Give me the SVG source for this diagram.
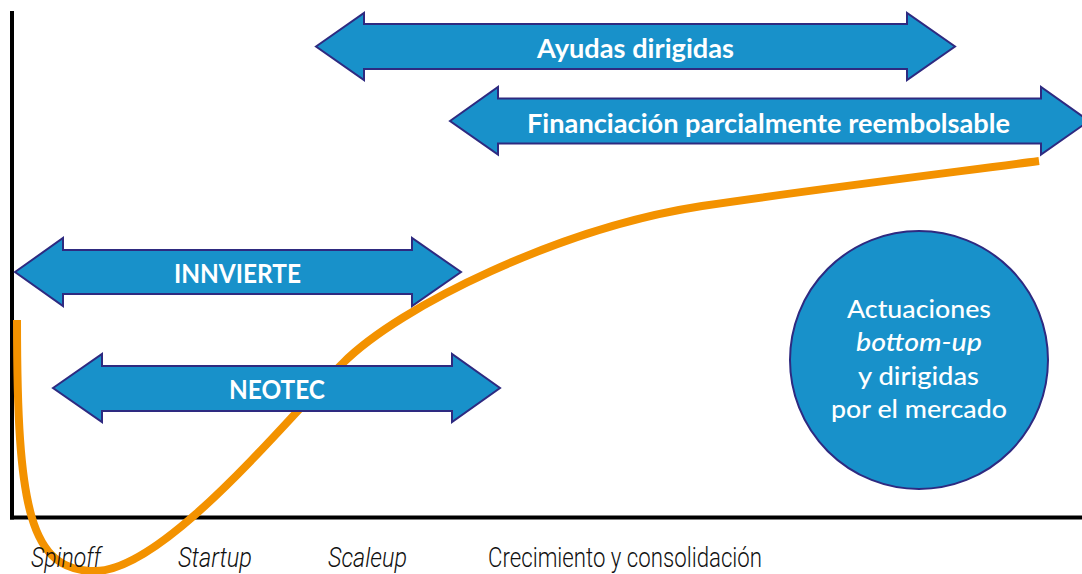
<svg xmlns="http://www.w3.org/2000/svg" width="1082" height="574" viewBox="0 0 1082 574">
  <style>
    .arrow { fill: #1891CA; stroke: #2E2A80; stroke-width: 2; stroke-linejoin: miter; }
    .alabel { font-family: Lato, "Open Sans", sans-serif; font-weight: 700; font-size: 27px; fill: #FFFFFF; text-anchor: middle; }
    .clabel { font-family: Lato, "Open Sans", sans-serif; font-weight: 500; font-size: 25px; fill: #FFFFFF; text-anchor: middle; }
    .stage { font-family: Roboto, "Liberation Sans", sans-serif; font-weight: 300; font-size: 28px; fill: #111111; }
    .axis { stroke: #000000; stroke-width: 4; fill: none; }
    .curve { stroke: #F39200; stroke-width: 8; fill: none; stroke-linecap: butt; }
  </style>
  <rect width="1082" height="574" fill="#FFFFFF"/>

  <g id="axes">
    <line class="axis" x1="12" y1="11" x2="12" y2="519.5"/>
    <line class="axis" x1="10" y1="517.5" x2="1082" y2="517.5"/>
  </g>

  <g id="connectors">
    <path class="curve" d="M17,320 C17,510 30,571 95,571 C165,571 290,415 343,363 C400,306 560,228 702,206 C810,190 940,174 1039,161"/>
  </g>

  <g id="node-ayudas">
    <polygon class="arrow" points="316,46.5 364,13 364,24 907,24 907,13 955,46.5 907,80 907,69 364,69 364,80"/>
    <text class="alabel" x="635.5" y="58" textLength="197" lengthAdjust="spacingAndGlyphs">Ayudas dirigidas</text>
  </g>

  <g id="node-financiacion">
    <polygon class="arrow" points="450,121 498,87 498,98.5 1041,98.5 1041,87 1089,121 1041,154.5 1041,143.5 498,143.5 498,154.5"/>
    <text class="alabel" x="768.5" y="133" textLength="483" lengthAdjust="spacingAndGlyphs">Financiación parcialmente reembolsable</text>
  </g>

  <g id="node-innvierte">
    <polygon class="arrow" points="15,272 63,238 63,250 412,250 412,238 461,272 412,306 412,294 63,294 63,306"/>
    <text class="alabel" x="237.5" y="283" textLength="127" lengthAdjust="spacingAndGlyphs">INNVIERTE</text>
  </g>

  <g id="node-neotec">
    <polygon class="arrow" points="53,388 102,354 102,366 452,366 452,354 500,388 452,422 452,411 102,411 102,422"/>
    <text class="alabel" x="277" y="399" textLength="96" lengthAdjust="spacingAndGlyphs">NEOTEC</text>
  </g>

  <g id="node-actuaciones">
    <circle cx="919" cy="360" r="129" fill="#1891CA" stroke="#2E2A80" stroke-width="2"/>
    <text class="clabel" x="919" y="318" textLength="144" lengthAdjust="spacingAndGlyphs">Actuaciones</text>
    <text class="clabel" x="919" y="351" font-style="italic" textLength="126" lengthAdjust="spacingAndGlyphs">bottom-up</text>
    <text class="clabel" x="918.5" y="385" textLength="121" lengthAdjust="spacingAndGlyphs">y dirigidas</text>
    <text class="clabel" x="919" y="418" textLength="176" lengthAdjust="spacingAndGlyphs">por el mercado</text>
  </g>

  <g id="stage-labels">
    <text class="stage" x="31" y="567" font-style="italic" textLength="70" lengthAdjust="spacingAndGlyphs">Spinoff</text>
    <text class="stage" x="178" y="567" font-style="italic" textLength="74" lengthAdjust="spacingAndGlyphs">Startup</text>
    <text class="stage" x="328" y="567" font-style="italic" textLength="79" lengthAdjust="spacingAndGlyphs">Scaleup</text>
    <text class="stage" x="488" y="567" textLength="274" lengthAdjust="spacingAndGlyphs">Crecimiento y consolidación</text>
  </g>
</svg>
